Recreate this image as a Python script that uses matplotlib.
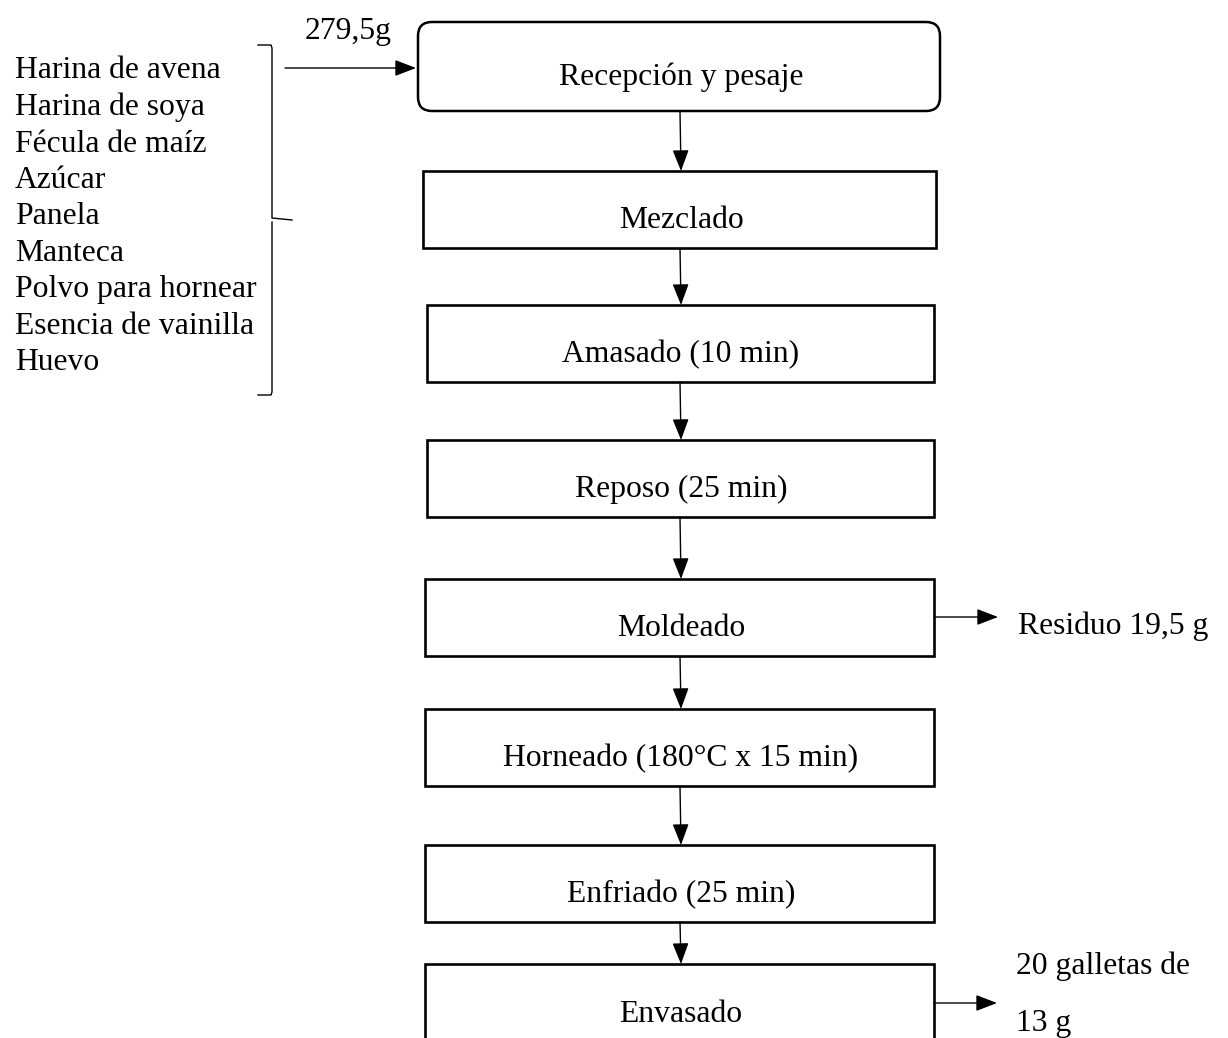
import matplotlib.pyplot as plt
from matplotlib.patches import FancyBboxPatch, Rectangle

plt.rcParams['font.family'] = ['Liberation Serif', 'DejaVu Serif']

steps = ["Recepción y pesaje", "Mezclado", "Amasado (10 min)", "Reposo (25 min)",
         "Moldeado", "Horneado (180°C x 15 min)", "Enfriado (25 min)", "Envasado"]
ingredients = ["Harina de avena", "Harina de soya", "Fécula de maíz", "Azúcar", "Panela",
               "Manteca", "Polvo para hornear", "Esencia de vainilla", "Huevo"]
input_label = "279,5g"
residue_label = "Residuo 19,5 g"
output_label = "20 galletas de\n\n13 g"

# layout in pixels (y grows downward)
box_left = [418, 423, 427, 427, 425, 425, 425, 425]
box_right = [940, 936, 934, 934, 934, 934, 934, 934]
box_top = [22, 171, 305, 440, 579, 709, 845, 964]
box_bot = [111, 248, 382, 517, 656, 786, 922, 1060]
FS = 22.8
ARROW = dict(arrowstyle="-|>,head_length=1.3,head_width=0.5",
             lw=1.0, color='black', shrinkA=0, shrinkB=0)

fig = plt.figure(figsize=(12.28, 10.38), dpi=100)
ax = fig.add_axes([0, 0, 1, 1])
ax.set_xlim(0, 1228)
ax.set_ylim(1038, 0)
ax.axis('off')

for i, name in enumerate(steps):
    x0, x1, y0, y1 = box_left[i], box_right[i], box_top[i], box_bot[i]
    if i == 0:
        ax.add_patch(FancyBboxPatch((x0 + 14, y0 + 14), x1 - x0 - 28, y1 - y0 - 28,
                                    boxstyle="round,pad=14", fc='white', ec='black', lw=1.8))
    else:
        ax.add_patch(Rectangle((x0, y0), x1 - x0, y1 - y0, fc='white', ec='black', lw=1.9))
    ty = (y0 + y1) / 2 + 11 if i < len(steps) - 1 else 1014
    ax.text(681, ty, name, ha='center', va='center', fontsize=FS)
    if i < len(steps) - 1:
        ax.annotate("", xy=(681, box_top[i + 1]), xytext=(680, y1), arrowprops=ARROW)

# ingredient list
for k, ing in enumerate(ingredients):
    ax.text(15, 71 + k * 36.5, ing, ha='left', va='center', fontsize=FS)

# brace
ax.plot([258, 271, 272, 272, 292], [45, 45, 48, 218, 220], color='black', lw=1.0)
ax.plot([272, 272, 271, 258], [222, 392, 395, 395], color='black', lw=1.0)

# input arrow
ax.annotate("", xy=(416, 68), xytext=(285, 68), arrowprops=ARROW)
ax.text(305, 31, input_label, ha='left', va='center', fontsize=FS)

# residue arrow
ax.annotate("", xy=(998, 617), xytext=(934, 617), arrowprops=ARROW)
ax.text(1018, 626, residue_label, ha='left', va='center', fontsize=FS)

# output arrow
ax.annotate("", xy=(997, 1003), xytext=(934, 1003), arrowprops=ARROW)
ax.text(1016, 995, output_label, ha='left', va='center', fontsize=FS, linespacing=0.97)

fig.savefig("out.png", dpi=100, facecolor='white')
